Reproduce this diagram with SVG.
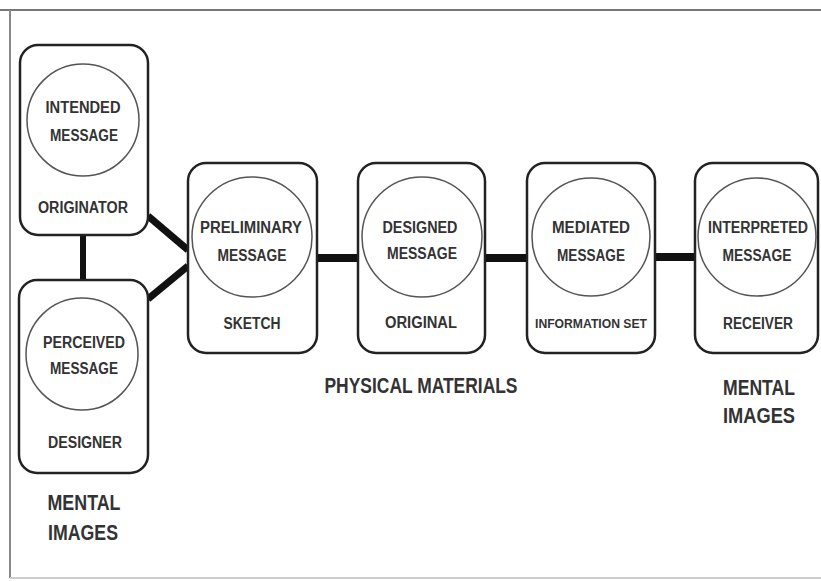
<svg xmlns="http://www.w3.org/2000/svg" width="821" height="581" viewBox="0 0 821 581">
<style>
.box{fill:#fff;stroke:#222;stroke-width:2.5}
.circ{fill:none;stroke:#555;stroke-width:1.5}
.lbl{font-family:"Liberation Sans Narrow","Liberation Sans",Arial,sans-serif;font-weight:bold;font-size:16px;fill:#333;text-anchor:middle}
.big{font-family:"Liberation Sans Narrow","Liberation Sans",Arial,sans-serif;font-weight:bold;font-size:22px;fill:#333;text-anchor:middle}
.conn{stroke:#111;fill:none;stroke-linecap:butt}
</style>
<rect x="0" y="0" width="821" height="581" fill="#fff"/>
<g id="frame">
<line x1="0" y1="10" x2="821" y2="10" stroke="#777" stroke-width="2"/>
<line x1="10" y1="10" x2="10" y2="578" stroke="#888" stroke-width="2"/>
<line x1="10" y1="578" x2="821" y2="578" stroke="#ccc" stroke-width="2"/>
</g>
<g id="connectors">
<line class="conn" x1="83" y1="235" x2="83" y2="280" stroke-width="6"/>
<line class="conn" x1="148" y1="216" x2="188" y2="250" stroke-width="7"/>
<line class="conn" x1="148" y1="299" x2="188" y2="266" stroke-width="7"/>
<line class="conn" x1="317" y1="258" x2="358" y2="258" stroke-width="8"/>
<line class="conn" x1="485" y1="258" x2="527" y2="258" stroke-width="8"/>
<line class="conn" x1="655" y1="257" x2="695" y2="257" stroke-width="8"/>
</g>
<g id="originator">
<rect class="box" x="20" y="45" width="128" height="190" rx="18"/>
<circle class="circ" cx="83" cy="120" r="56"/>
<text class="lbl" x="83" y="113" textLength="75" lengthAdjust="spacingAndGlyphs">INTENDED</text>
<text class="lbl" x="84" y="141" textLength="68" lengthAdjust="spacingAndGlyphs">MESSAGE</text>
<text class="lbl" x="83" y="213" textLength="90" lengthAdjust="spacingAndGlyphs">ORIGINATOR</text>
</g>
<g id="designer">
<rect class="box" x="19" y="280" width="129" height="193" rx="18"/>
<circle class="circ" cx="82" cy="354" r="56"/>
<text class="lbl" x="84" y="348" textLength="82" lengthAdjust="spacingAndGlyphs">PERCEIVED</text>
<text class="lbl" x="84" y="374" textLength="68" lengthAdjust="spacingAndGlyphs">MESSAGE</text>
<text class="lbl" x="85" y="448" textLength="74" lengthAdjust="spacingAndGlyphs">DESIGNER</text>
</g>
<g id="preliminary">
<rect class="box" x="188" y="163" width="129" height="190" rx="18"/>
<circle class="circ" cx="252" cy="237" r="60"/>
<text class="lbl" x="251" y="233" textLength="102" lengthAdjust="spacingAndGlyphs">PRELIMINARY</text>
<text class="lbl" x="252" y="261" textLength="69" lengthAdjust="spacingAndGlyphs">MESSAGE</text>
<text class="lbl" x="252" y="329" textLength="57" lengthAdjust="spacingAndGlyphs">SKETCH</text>
</g>
<g id="designed">
<rect class="box" x="358" y="163" width="127" height="190" rx="18"/>
<circle class="circ" cx="422" cy="237" r="60"/>
<text class="lbl" x="420" y="233" textLength="75" lengthAdjust="spacingAndGlyphs">DESIGNED</text>
<text class="lbl" x="422" y="259" textLength="70" lengthAdjust="spacingAndGlyphs">MESSAGE</text>
<text class="lbl" x="421" y="328" textLength="72" lengthAdjust="spacingAndGlyphs">ORIGINAL</text>
</g>
<g id="mediated">
<rect class="box" x="527" y="163" width="128" height="190" rx="18"/>
<circle class="circ" cx="591" cy="237" r="59"/>
<text class="lbl" x="591" y="233" textLength="78" lengthAdjust="spacingAndGlyphs">MEDIATED</text>
<text class="lbl" x="591" y="261" textLength="68" lengthAdjust="spacingAndGlyphs">MESSAGE</text>
<text class="lbl" x="591" y="328" style="font-size:13px" textLength="112" lengthAdjust="spacingAndGlyphs">INFORMATION SET</text>
</g>
<g id="receiver">
<rect class="box" x="695" y="163" width="123" height="190" rx="18"/>
<circle class="circ" cx="757" cy="237" r="59"/>
<text class="lbl" x="758" y="233" textLength="100" lengthAdjust="spacingAndGlyphs">INTERPRETED</text>
<text class="lbl" x="757" y="261" textLength="69" lengthAdjust="spacingAndGlyphs">MESSAGE</text>
<text class="lbl" x="758" y="329" textLength="70" lengthAdjust="spacingAndGlyphs">RECEIVER</text>
</g>
<g id="labels">
<text class="big" x="421" y="393" textLength="193" lengthAdjust="spacingAndGlyphs">PHYSICAL MATERIALS</text>
<text class="big" x="759" y="395" textLength="72" lengthAdjust="spacingAndGlyphs">MENTAL</text>
<text class="big" x="759" y="423" textLength="72" lengthAdjust="spacingAndGlyphs">IMAGES</text>
<text class="big" x="84" y="510" textLength="73" lengthAdjust="spacingAndGlyphs">MENTAL</text>
<text class="big" x="83" y="540" textLength="70" lengthAdjust="spacingAndGlyphs">IMAGES</text>
</g>
</svg>
